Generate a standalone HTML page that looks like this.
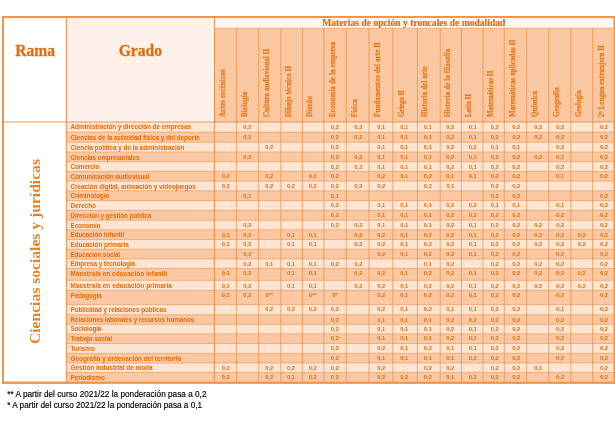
<!DOCTYPE html>
<html lang="es"><head><meta charset="utf-8"><title>Ponderaciones</title><style>
html,body{margin:0;padding:0;background:#fff;}
body{width:615px;height:434px;position:relative;overflow:hidden;font-family:"Liberation Sans",sans-serif;}
body>div{position:absolute;white-space:nowrap;}
.big{font-family:"Liberation Serif",serif;font-weight:bold;font-size:15.6px;line-height:20px;color:#E36C0A;text-align:center;transform-origin:50% 15.26px;transform:scaleY(1.11);-webkit-text-stroke:0.25px #E36C0A;}
.title{font-family:"Liberation Serif",serif;font-weight:bold;font-size:9.6px;line-height:10.5px;color:#E36C0A;text-align:center;transform-origin:50% 80%;transform:scaleY(1.05);-webkit-text-stroke:0.15px #E36C0A;}
.rot{font-family:"Liberation Serif",serif;font-weight:bold;transform-origin:0 0;transform:rotate(-90deg);}
.rama{font-size:15.6px;line-height:18px;color:#F0801F;}
.hd{font-size:7.0px;line-height:8px;color:#EA771A;transform:rotate(-90deg) scaleY(1.1);-webkit-text-stroke:0.2px #EA771A;}
.lab{height:10px;line-height:10px;font-weight:bold;font-size:6.4px;color:#E36C0A;}
.d{width:20px;height:10px;line-height:10px;font-weight:bold;font-size:5.8px;color:#E36C0A;text-align:center;}
.fn{-webkit-text-stroke:0.15px #000;font-size:8.2px;line-height:11px;color:#000;}
</style></head><body>
<svg width="615" height="434" viewBox="0 0 615 434" style="position:absolute;left:0;top:0;"><rect x="66.30" y="18.00" width="148.00" height="104.00" fill="#FFFAF6"/><rect x="66.30" y="18.00" width="145.40" height="104.00" fill="#FEF1E9"/><rect x="214.30" y="18.00" width="399.10" height="10.00" fill="#FEF6F0"/><rect x="214.30" y="28.00" width="399.10" height="94.00" fill="#F9C8A0"/><rect x="66.30" y="122.00" width="547.10" height="259.60" fill="#FDE5D3"/><rect x="66.30" y="132.20" width="547.10" height="10.00" fill="#FAC9A3"/><rect x="66.30" y="152.00" width="547.10" height="9.70" fill="#FAC9A3"/><rect x="66.30" y="171.40" width="547.10" height="9.70" fill="#FAC9A3"/><rect x="66.30" y="190.80" width="547.10" height="9.80" fill="#FAC9A3"/><rect x="66.30" y="210.40" width="547.10" height="9.80" fill="#FAC9A3"/><rect x="66.30" y="229.80" width="547.10" height="9.70" fill="#FAC9A3"/><rect x="66.30" y="249.30" width="547.10" height="9.70" fill="#FAC9A3"/><rect x="66.30" y="268.40" width="547.10" height="11.90" fill="#FAC9A3"/><rect x="66.30" y="290.40" width="547.10" height="14.20" fill="#FAC9A3"/><rect x="66.30" y="314.80" width="547.10" height="9.50" fill="#FAC9A3"/><rect x="66.30" y="333.90" width="547.10" height="9.60" fill="#FAC9A3"/><rect x="66.30" y="353.40" width="547.10" height="9.60" fill="#FAC9A3"/><rect x="66.30" y="372.40" width="547.10" height="9.20" fill="#FAC9A3"/><line x1="4.00" y1="122.00" x2="613.40" y2="122.00" stroke="#F08A3C" stroke-width="0.9"/><line x1="214.30" y1="28.20" x2="613.40" y2="28.20" stroke="#F3A46C" stroke-width="0.7"/><line x1="66.30" y1="132.20" x2="613.40" y2="132.20" stroke="#F08A3C" stroke-width="0.55"/><line x1="66.30" y1="142.20" x2="613.40" y2="142.20" stroke="#F08A3C" stroke-width="0.55"/><line x1="66.30" y1="152.00" x2="613.40" y2="152.00" stroke="#F08A3C" stroke-width="0.55"/><line x1="66.30" y1="161.70" x2="613.40" y2="161.70" stroke="#F08A3C" stroke-width="0.55"/><line x1="66.30" y1="171.40" x2="613.40" y2="171.40" stroke="#F08A3C" stroke-width="0.55"/><line x1="66.30" y1="181.10" x2="613.40" y2="181.10" stroke="#F08A3C" stroke-width="0.55"/><line x1="66.30" y1="190.80" x2="613.40" y2="190.80" stroke="#F08A3C" stroke-width="0.55"/><line x1="66.30" y1="200.60" x2="613.40" y2="200.60" stroke="#F08A3C" stroke-width="0.55"/><line x1="66.30" y1="210.40" x2="613.40" y2="210.40" stroke="#F08A3C" stroke-width="0.55"/><line x1="66.30" y1="220.20" x2="613.40" y2="220.20" stroke="#F08A3C" stroke-width="0.55"/><line x1="66.30" y1="229.80" x2="613.40" y2="229.80" stroke="#F08A3C" stroke-width="0.55"/><line x1="66.30" y1="239.50" x2="613.40" y2="239.50" stroke="#F08A3C" stroke-width="0.55"/><line x1="66.30" y1="249.30" x2="613.40" y2="249.30" stroke="#F08A3C" stroke-width="0.55"/><line x1="66.30" y1="259.00" x2="613.40" y2="259.00" stroke="#F08A3C" stroke-width="0.55"/><line x1="66.30" y1="268.40" x2="613.40" y2="268.40" stroke="#F08A3C" stroke-width="0.55"/><line x1="66.30" y1="280.30" x2="613.40" y2="280.30" stroke="#F08A3C" stroke-width="0.55"/><line x1="66.30" y1="290.40" x2="613.40" y2="290.40" stroke="#F08A3C" stroke-width="0.55"/><line x1="66.30" y1="304.60" x2="613.40" y2="304.60" stroke="#F08A3C" stroke-width="0.55"/><line x1="66.30" y1="314.80" x2="613.40" y2="314.80" stroke="#F08A3C" stroke-width="0.55"/><line x1="66.30" y1="324.30" x2="613.40" y2="324.30" stroke="#F08A3C" stroke-width="0.55"/><line x1="66.30" y1="333.90" x2="613.40" y2="333.90" stroke="#F08A3C" stroke-width="0.55"/><line x1="66.30" y1="343.50" x2="613.40" y2="343.50" stroke="#F08A3C" stroke-width="0.55"/><line x1="66.30" y1="353.40" x2="613.40" y2="353.40" stroke="#F08A3C" stroke-width="0.55"/><line x1="66.30" y1="363.00" x2="613.40" y2="363.00" stroke="#F08A3C" stroke-width="0.55"/><line x1="66.30" y1="372.40" x2="613.40" y2="372.40" stroke="#F08A3C" stroke-width="0.55"/><line x1="66.30" y1="18.00" x2="66.30" y2="381.60" stroke="#F08A3C" stroke-width="1.0"/><line x1="214.30" y1="18.00" x2="214.30" y2="381.60" stroke="#F08A3C" stroke-width="1.0"/><line x1="236.40" y1="28.00" x2="236.40" y2="381.60" stroke="#F08A3C" stroke-width="0.7"/><line x1="258.70" y1="28.00" x2="258.70" y2="381.60" stroke="#F08A3C" stroke-width="0.7"/><line x1="280.80" y1="28.00" x2="280.80" y2="381.60" stroke="#F08A3C" stroke-width="0.7"/><line x1="302.40" y1="28.00" x2="302.40" y2="381.60" stroke="#F08A3C" stroke-width="0.7"/><line x1="323.90" y1="28.00" x2="323.90" y2="381.60" stroke="#F08A3C" stroke-width="0.7"/><line x1="346.20" y1="28.00" x2="346.20" y2="381.60" stroke="#F08A3C" stroke-width="0.7"/><line x1="369.00" y1="28.00" x2="369.00" y2="381.60" stroke="#F08A3C" stroke-width="0.7"/><line x1="392.80" y1="28.00" x2="392.80" y2="381.60" stroke="#F08A3C" stroke-width="0.7"/><line x1="417.40" y1="28.00" x2="417.40" y2="381.60" stroke="#F08A3C" stroke-width="0.7"/><line x1="440.20" y1="28.00" x2="440.20" y2="381.60" stroke="#F08A3C" stroke-width="0.7"/><line x1="461.40" y1="28.00" x2="461.40" y2="381.60" stroke="#F08A3C" stroke-width="0.7"/><line x1="483.00" y1="28.00" x2="483.00" y2="381.60" stroke="#F08A3C" stroke-width="0.7"/><line x1="504.30" y1="28.00" x2="504.30" y2="381.60" stroke="#F08A3C" stroke-width="0.7"/><line x1="526.70" y1="28.00" x2="526.70" y2="381.60" stroke="#F08A3C" stroke-width="0.7"/><line x1="548.80" y1="28.00" x2="548.80" y2="381.60" stroke="#F08A3C" stroke-width="0.7"/><line x1="570.80" y1="28.00" x2="570.80" y2="381.60" stroke="#F08A3C" stroke-width="0.7"/><line x1="592.60" y1="28.00" x2="592.60" y2="381.60" stroke="#F08A3C" stroke-width="0.7"/><rect x="2.00" y="16.00" width="613.00" height="2.00" fill="#F39447"/><rect x="2.00" y="381.50" width="613.00" height="2.40" fill="#F39447"/><rect x="2.00" y="16.00" width="2.00" height="367.60" fill="#F39447"/><rect x="613.40" y="16.00" width="1.60" height="367.60" fill="#F39447"/></svg>
<div class="big" style="left:4px;top:41.0px;width:62.30px;">Rama</div>
<div class="big" style="left:66.30px;top:41.0px;width:148.00px;">Grado</div>
<div class="title" style="left:214.30px;top:18.1px;width:399.10px;">Materias de opción y troncales de modalidad</div>
<div class="rot rama" style="left:26px;top:343.8px;">Ciencias sociales y jurídicas</div>
<div class="rot hd" style="left:217.70px;top:116.7px;letter-spacing:0.166px;">Artes escénicas</div>
<div class="rot hd" style="left:239.70px;top:116.7px;letter-spacing:0.111px;">Biología</div>
<div class="rot hd" style="left:261.90px;top:116.7px;letter-spacing:0.052px;">Cultura audiovisual II</div>
<div class="rot hd" style="left:284.00px;top:116.7px;letter-spacing:0.024px;">Dibujo técnico II</div>
<div class="rot hd" style="left:305.40px;top:116.7px;letter-spacing:0.177px;">Diseño</div>
<div class="rot hd" style="left:327.70px;top:116.7px;letter-spacing:0.123px;">Economía de la empresa</div>
<div class="rot hd" style="left:349.90px;top:116.7px;letter-spacing:0.060px;">Física</div>
<div class="rot hd" style="left:373.20px;top:116.7px;letter-spacing:0.102px;">Fundamentos del arte II</div>
<div class="rot hd" style="left:397.00px;top:116.7px;letter-spacing:-0.136px;">Griego II</div>
<div class="rot hd" style="left:420.40px;top:116.7px;letter-spacing:0.109px;">Historia del arte</div>
<div class="rot hd" style="left:442.90px;top:116.7px;letter-spacing:0.104px;">Historia de la filosofía</div>
<div class="rot hd" style="left:464.00px;top:116.7px;letter-spacing:-0.094px;">Latín II</div>
<div class="rot hd" style="left:485.70px;top:116.7px;letter-spacing:0.052px;">Matemáticas II</div>
<div class="rot hd" style="left:508.00px;top:116.7px;letter-spacing:0.079px;">Matemáticas aplicadas II</div>
<div class="rot hd" style="left:530.40px;top:116.7px;letter-spacing:0.045px;">Química</div>
<div class="rot hd" style="left:552.30px;top:116.7px;letter-spacing:-0.031px;">Geografía</div>
<div class="rot hd" style="left:574.30px;top:116.7px;letter-spacing:0.006px;">Geología</div>
<div class="rot hd" style="left:596.70px;top:116.7px;letter-spacing:0.061px;">2ª Lengua extranjera II</div>
<div class="lab" style="left:70.5px;top:122px;letter-spacing:-0.064px;">Administración y dirección de empresas</div>
<div class="lab" style="left:70.5px;top:133px;letter-spacing:-0.055px;">Ciencias de la actividad física y del deporte</div>
<div class="lab" style="left:70.5px;top:143px;letter-spacing:-0.048px;">Ciencia política y de la administración</div>
<div class="lab" style="left:70.5px;top:153px;letter-spacing:-0.095px;">Ciencias empresariales</div>
<div class="lab" style="left:70.5px;top:162px;letter-spacing:-0.097px;">Comercio</div>
<div class="lab" style="left:70.5px;top:172px;letter-spacing:-0.081px;">Comunicación audiovisual</div>
<div class="lab" style="left:70.5px;top:182px;letter-spacing:-0.054px;">Creación digital, animación y videojuegos</div>
<div class="lab" style="left:70.5px;top:191px;letter-spacing:-0.051px;">Criminología</div>
<div class="lab" style="left:70.5px;top:201px;letter-spacing:-0.026px;">Derecho</div>
<div class="lab" style="left:70.5px;top:211px;letter-spacing:-0.085px;">Dirección y gestión pública</div>
<div class="lab" style="left:70.5px;top:221px;letter-spacing:-0.114px;">Economía</div>
<div class="lab" style="left:70.5px;top:230px;letter-spacing:-0.075px;">Educación infantil</div>
<div class="lab" style="left:70.5px;top:240px;letter-spacing:-0.064px;">Educación primaria</div>
<div class="lab" style="left:70.5px;top:250px;letter-spacing:-0.177px;">Educación social</div>
<div class="lab" style="left:70.5px;top:259px;letter-spacing:-0.076px;">Empresa y tecnología</div>
<div class="lab" style="left:70.5px;top:269px;letter-spacing:0.055px;">Maestro/a en educación infantil</div>
<div class="lab" style="left:70.5px;top:281px;letter-spacing:0.061px;">Maestro/a en educación primaria</div>
<div class="lab" style="left:70.5px;top:291px;letter-spacing:-0.127px;">Pedagogía</div>
<div class="lab" style="left:70.5px;top:305px;letter-spacing:-0.090px;">Publicidad y relaciones públicas</div>
<div class="lab" style="left:70.5px;top:315px;letter-spacing:-0.105px;">Relaciones laborales y recursos humanos</div>
<div class="lab" style="left:70.5px;top:324px;letter-spacing:-0.155px;">Sociología</div>
<div class="lab" style="left:70.5px;top:334px;letter-spacing:-0.089px;">Trabajo social</div>
<div class="lab" style="left:70.5px;top:344px;letter-spacing:-0.055px;">Turismo</div>
<div class="lab" style="left:70.5px;top:354px;letter-spacing:0.005px;">Geografía y ordenación del territorio</div>
<div class="lab" style="left:70.5px;top:363px;letter-spacing:-0.015px;">Gestión industrial de moda</div>
<div class="lab" style="left:70.5px;top:373px;letter-spacing:-0.052px;">Periodismo</div>
<div class="d" style="left:237.40px;top:122px;">0,2</div>
<div class="d" style="left:324.90px;top:122px;">0,2</div>
<div class="d" style="left:348.40px;top:122px;">0,2</div>
<div class="d" style="left:371.30px;top:122px;">0,1</div>
<div class="d" style="left:394.30px;top:122px;">0,1</div>
<div class="d" style="left:417.90px;top:122px;">0,1</div>
<div class="d" style="left:440.20px;top:122px;">0,2</div>
<div class="d" style="left:462.70px;top:122px;">0,1</div>
<div class="d" style="left:484.70px;top:122px;">0,2</div>
<div class="d" style="left:506.30px;top:122px;">0,2</div>
<div class="d" style="left:528.20px;top:122px;">0,2</div>
<div class="d" style="left:550.10px;top:122px;">0,2</div>
<div class="d" style="left:594.00px;top:122px;">0,2</div>
<div class="d" style="left:237.40px;top:132px;">0,2</div>
<div class="d" style="left:324.90px;top:132px;">0,2</div>
<div class="d" style="left:348.40px;top:132px;">0,2</div>
<div class="d" style="left:371.30px;top:132px;">0,1</div>
<div class="d" style="left:394.30px;top:132px;">0,1</div>
<div class="d" style="left:417.90px;top:132px;">0,1</div>
<div class="d" style="left:440.20px;top:132px;">0,2</div>
<div class="d" style="left:462.70px;top:132px;">0,1</div>
<div class="d" style="left:484.70px;top:132px;">0,2</div>
<div class="d" style="left:506.30px;top:132px;">0,2</div>
<div class="d" style="left:528.20px;top:132px;">0,2</div>
<div class="d" style="left:550.10px;top:132px;">0,2</div>
<div class="d" style="left:594.00px;top:132px;">0,2</div>
<div class="d" style="left:259.30px;top:142px;">0,2</div>
<div class="d" style="left:324.90px;top:142px;">0,2</div>
<div class="d" style="left:371.30px;top:142px;">0,1</div>
<div class="d" style="left:394.30px;top:142px;">0,1</div>
<div class="d" style="left:417.90px;top:142px;">0,1</div>
<div class="d" style="left:440.20px;top:142px;">0,2</div>
<div class="d" style="left:462.70px;top:142px;">0,2</div>
<div class="d" style="left:484.70px;top:142px;">0,1</div>
<div class="d" style="left:506.30px;top:142px;">0,1</div>
<div class="d" style="left:550.10px;top:142px;">0,2</div>
<div class="d" style="left:594.00px;top:142px;">0,2</div>
<div class="d" style="left:237.40px;top:152px;">0,2</div>
<div class="d" style="left:324.90px;top:152px;">0,2</div>
<div class="d" style="left:348.40px;top:152px;">0,2</div>
<div class="d" style="left:371.30px;top:152px;">0,1</div>
<div class="d" style="left:394.30px;top:152px;">0,1</div>
<div class="d" style="left:417.90px;top:152px;">0,1</div>
<div class="d" style="left:440.20px;top:152px;">0,2</div>
<div class="d" style="left:462.70px;top:152px;">0,1</div>
<div class="d" style="left:484.70px;top:152px;">0,2</div>
<div class="d" style="left:506.30px;top:152px;">0,2</div>
<div class="d" style="left:528.20px;top:152px;">0,2</div>
<div class="d" style="left:550.10px;top:152px;">0,2</div>
<div class="d" style="left:594.00px;top:152px;">0,2</div>
<div class="d" style="left:324.90px;top:162px;">0,2</div>
<div class="d" style="left:348.40px;top:162px;">0,2</div>
<div class="d" style="left:371.30px;top:162px;">0,1</div>
<div class="d" style="left:394.30px;top:162px;">0,1</div>
<div class="d" style="left:417.90px;top:162px;">0,1</div>
<div class="d" style="left:440.20px;top:162px;">0,2</div>
<div class="d" style="left:462.70px;top:162px;">0,1</div>
<div class="d" style="left:484.70px;top:162px;">0,2</div>
<div class="d" style="left:506.30px;top:162px;">0,2</div>
<div class="d" style="left:550.10px;top:162px;">0,2</div>
<div class="d" style="left:594.00px;top:162px;">0,2</div>
<div class="d" style="left:215.70px;top:171px;">0,2</div>
<div class="d" style="left:259.30px;top:171px;">0,2</div>
<div class="d" style="left:302.70px;top:171px;">0,2</div>
<div class="d" style="left:324.90px;top:171px;">0,2</div>
<div class="d" style="left:371.30px;top:171px;">0,2</div>
<div class="d" style="left:394.30px;top:171px;">0,1</div>
<div class="d" style="left:417.90px;top:171px;">0,2</div>
<div class="d" style="left:440.20px;top:171px;">0,1</div>
<div class="d" style="left:462.70px;top:171px;">0,1</div>
<div class="d" style="left:484.70px;top:171px;">0,2</div>
<div class="d" style="left:506.30px;top:171px;">0,2</div>
<div class="d" style="left:550.10px;top:171px;">0,1</div>
<div class="d" style="left:594.00px;top:171px;">0,2</div>
<div class="d" style="left:215.70px;top:181px;">0,2</div>
<div class="d" style="left:259.30px;top:181px;">0,2</div>
<div class="d" style="left:281.00px;top:181px;">0,2</div>
<div class="d" style="left:302.70px;top:181px;">0,2</div>
<div class="d" style="left:324.90px;top:181px;">0,2</div>
<div class="d" style="left:348.40px;top:181px;">0,2</div>
<div class="d" style="left:371.30px;top:181px;">0,2</div>
<div class="d" style="left:417.90px;top:181px;">0,2</div>
<div class="d" style="left:440.20px;top:181px;">0,1</div>
<div class="d" style="left:484.70px;top:181px;">0,2</div>
<div class="d" style="left:506.30px;top:181px;">0,2</div>
<div class="d" style="left:237.40px;top:191px;">0,1</div>
<div class="d" style="left:324.90px;top:191px;">0,1</div>
<div class="d" style="left:484.70px;top:191px;">0,2</div>
<div class="d" style="left:506.30px;top:191px;">0,2</div>
<div class="d" style="left:594.00px;top:191px;">0,2</div>
<div class="d" style="left:324.90px;top:200px;">0,2</div>
<div class="d" style="left:371.30px;top:200px;">0,1</div>
<div class="d" style="left:394.30px;top:200px;">0,1</div>
<div class="d" style="left:417.90px;top:200px;">0,1</div>
<div class="d" style="left:440.20px;top:200px;">0,2</div>
<div class="d" style="left:462.70px;top:200px;">0,2</div>
<div class="d" style="left:484.70px;top:200px;">0,1</div>
<div class="d" style="left:506.30px;top:200px;">0,1</div>
<div class="d" style="left:550.10px;top:200px;">0,1</div>
<div class="d" style="left:594.00px;top:200px;">0,2</div>
<div class="d" style="left:324.90px;top:210px;">0,2</div>
<div class="d" style="left:371.30px;top:210px;">0,1</div>
<div class="d" style="left:394.30px;top:210px;">0,1</div>
<div class="d" style="left:417.90px;top:210px;">0,1</div>
<div class="d" style="left:440.20px;top:210px;">0,2</div>
<div class="d" style="left:462.70px;top:210px;">0,2</div>
<div class="d" style="left:484.70px;top:210px;">0,2</div>
<div class="d" style="left:506.30px;top:210px;">0,2</div>
<div class="d" style="left:550.10px;top:210px;">0,2</div>
<div class="d" style="left:594.00px;top:210px;">0,2</div>
<div class="d" style="left:237.40px;top:220px;">0,2</div>
<div class="d" style="left:324.90px;top:220px;">0,2</div>
<div class="d" style="left:348.40px;top:220px;">0,2</div>
<div class="d" style="left:371.30px;top:220px;">0,1</div>
<div class="d" style="left:394.30px;top:220px;">0,1</div>
<div class="d" style="left:417.90px;top:220px;">0,1</div>
<div class="d" style="left:440.20px;top:220px;">0,2</div>
<div class="d" style="left:462.70px;top:220px;">0,1</div>
<div class="d" style="left:484.70px;top:220px;">0,2</div>
<div class="d" style="left:506.30px;top:220px;">0,2</div>
<div class="d" style="left:528.20px;top:220px;">0,2</div>
<div class="d" style="left:550.10px;top:220px;">0,2</div>
<div class="d" style="left:594.00px;top:220px;">0,2</div>
<div class="d" style="left:215.70px;top:230px;">0,1</div>
<div class="d" style="left:237.40px;top:230px;">0,2</div>
<div class="d" style="left:281.00px;top:230px;">0,1</div>
<div class="d" style="left:302.70px;top:230px;">0,1</div>
<div class="d" style="left:348.40px;top:230px;">0,2</div>
<div class="d" style="left:371.30px;top:230px;">0,2</div>
<div class="d" style="left:394.30px;top:230px;">0,1</div>
<div class="d" style="left:417.90px;top:230px;">0,2</div>
<div class="d" style="left:440.20px;top:230px;">0,2</div>
<div class="d" style="left:462.70px;top:230px;">0,1</div>
<div class="d" style="left:484.70px;top:230px;">0,2</div>
<div class="d" style="left:506.30px;top:230px;">0,2</div>
<div class="d" style="left:528.20px;top:230px;">0,2</div>
<div class="d" style="left:550.10px;top:230px;">0,2</div>
<div class="d" style="left:571.70px;top:230px;">0,2</div>
<div class="d" style="left:594.00px;top:230px;">0,2</div>
<div class="d" style="left:215.70px;top:239px;">0,1</div>
<div class="d" style="left:237.40px;top:239px;">0,2</div>
<div class="d" style="left:281.00px;top:239px;">0,1</div>
<div class="d" style="left:302.70px;top:239px;">0,1</div>
<div class="d" style="left:348.40px;top:239px;">0,2</div>
<div class="d" style="left:371.30px;top:239px;">0,2</div>
<div class="d" style="left:394.30px;top:239px;">0,1</div>
<div class="d" style="left:417.90px;top:239px;">0,2</div>
<div class="d" style="left:440.20px;top:239px;">0,2</div>
<div class="d" style="left:462.70px;top:239px;">0,1</div>
<div class="d" style="left:484.70px;top:239px;">0,2</div>
<div class="d" style="left:506.30px;top:239px;">0,2</div>
<div class="d" style="left:528.20px;top:239px;">0,2</div>
<div class="d" style="left:550.10px;top:239px;">0,2</div>
<div class="d" style="left:571.70px;top:239px;">0,2</div>
<div class="d" style="left:594.00px;top:239px;">0,2</div>
<div class="d" style="left:237.40px;top:249px;">0,2</div>
<div class="d" style="left:371.30px;top:249px;">0,2</div>
<div class="d" style="left:394.30px;top:249px;">0,1</div>
<div class="d" style="left:417.90px;top:249px;">0,2</div>
<div class="d" style="left:440.20px;top:249px;">0,2</div>
<div class="d" style="left:462.70px;top:249px;">0,1</div>
<div class="d" style="left:484.70px;top:249px;">0,2</div>
<div class="d" style="left:506.30px;top:249px;">0,2</div>
<div class="d" style="left:550.10px;top:249px;">0,2</div>
<div class="d" style="left:594.00px;top:249px;">0,2</div>
<div class="d" style="left:237.40px;top:259px;">0,2</div>
<div class="d" style="left:259.30px;top:259px;">0,1</div>
<div class="d" style="left:281.00px;top:259px;">0,1</div>
<div class="d" style="left:302.70px;top:259px;">0,1</div>
<div class="d" style="left:324.90px;top:259px;">0,2</div>
<div class="d" style="left:348.40px;top:259px;">0,2</div>
<div class="d" style="left:417.90px;top:259px;">0,1</div>
<div class="d" style="left:440.20px;top:259px;">0,2</div>
<div class="d" style="left:484.70px;top:259px;">0,2</div>
<div class="d" style="left:506.30px;top:259px;">0,2</div>
<div class="d" style="left:528.20px;top:259px;">0,2</div>
<div class="d" style="left:550.10px;top:259px;">0,2</div>
<div class="d" style="left:594.00px;top:259px;">0,2</div>
<div class="d" style="left:215.70px;top:268px;">0,1</div>
<div class="d" style="left:237.40px;top:268px;">0,2</div>
<div class="d" style="left:281.00px;top:268px;">0,1</div>
<div class="d" style="left:302.70px;top:268px;">0,1</div>
<div class="d" style="left:348.40px;top:268px;">0,2</div>
<div class="d" style="left:371.30px;top:268px;">0,2</div>
<div class="d" style="left:394.30px;top:268px;">0,1</div>
<div class="d" style="left:417.90px;top:268px;">0,2</div>
<div class="d" style="left:440.20px;top:268px;">0,2</div>
<div class="d" style="left:462.70px;top:268px;">0,1</div>
<div class="d" style="left:484.70px;top:268px;">0,2</div>
<div class="d" style="left:506.30px;top:268px;">0,2</div>
<div class="d" style="left:528.20px;top:268px;">0,2</div>
<div class="d" style="left:550.10px;top:268px;">0,2</div>
<div class="d" style="left:571.70px;top:268px;">0,2</div>
<div class="d" style="left:594.00px;top:268px;">0,2</div>
<div class="d" style="left:215.70px;top:281px;">0,1</div>
<div class="d" style="left:237.40px;top:281px;">0,2</div>
<div class="d" style="left:281.00px;top:281px;">0,1</div>
<div class="d" style="left:302.70px;top:281px;">0,1</div>
<div class="d" style="left:348.40px;top:281px;">0,2</div>
<div class="d" style="left:371.30px;top:281px;">0,2</div>
<div class="d" style="left:394.30px;top:281px;">0,1</div>
<div class="d" style="left:417.90px;top:281px;">0,2</div>
<div class="d" style="left:440.20px;top:281px;">0,2</div>
<div class="d" style="left:462.70px;top:281px;">0,1</div>
<div class="d" style="left:484.70px;top:281px;">0,2</div>
<div class="d" style="left:506.30px;top:281px;">0,2</div>
<div class="d" style="left:528.20px;top:281px;">0,2</div>
<div class="d" style="left:550.10px;top:281px;">0,2</div>
<div class="d" style="left:571.70px;top:281px;">0,2</div>
<div class="d" style="left:594.00px;top:281px;">0,2</div>
<div class="d" style="left:215.70px;top:290px;">0,1</div>
<div class="d" style="left:237.40px;top:290px;">0,2</div>
<div class="d" style="left:259.30px;top:290px;">0**</div>
<div class="d" style="left:302.70px;top:290px;">0**</div>
<div class="d" style="left:324.90px;top:290px;">0*</div>
<div class="d" style="left:371.30px;top:290px;">0,2</div>
<div class="d" style="left:394.30px;top:290px;">0,1</div>
<div class="d" style="left:417.90px;top:290px;">0,2</div>
<div class="d" style="left:440.20px;top:290px;">0,2</div>
<div class="d" style="left:462.70px;top:290px;">0,1</div>
<div class="d" style="left:484.70px;top:290px;">0,2</div>
<div class="d" style="left:506.30px;top:290px;">0,2</div>
<div class="d" style="left:550.10px;top:290px;">0,2</div>
<div class="d" style="left:594.00px;top:290px;">0,2</div>
<div class="d" style="left:259.30px;top:304px;">0,2</div>
<div class="d" style="left:281.00px;top:304px;">0,2</div>
<div class="d" style="left:302.70px;top:304px;">0,2</div>
<div class="d" style="left:324.90px;top:304px;">0,2</div>
<div class="d" style="left:371.30px;top:304px;">0,2</div>
<div class="d" style="left:394.30px;top:304px;">0,1</div>
<div class="d" style="left:417.90px;top:304px;">0,2</div>
<div class="d" style="left:440.20px;top:304px;">0,1</div>
<div class="d" style="left:462.70px;top:304px;">0,1</div>
<div class="d" style="left:484.70px;top:304px;">0,2</div>
<div class="d" style="left:506.30px;top:304px;">0,2</div>
<div class="d" style="left:550.10px;top:304px;">0,1</div>
<div class="d" style="left:594.00px;top:304px;">0,2</div>
<div class="d" style="left:324.90px;top:315px;">0,2</div>
<div class="d" style="left:371.30px;top:315px;">0,1</div>
<div class="d" style="left:394.30px;top:315px;">0,1</div>
<div class="d" style="left:417.90px;top:315px;">0,1</div>
<div class="d" style="left:440.20px;top:315px;">0,2</div>
<div class="d" style="left:462.70px;top:315px;">0,2</div>
<div class="d" style="left:484.70px;top:315px;">0,2</div>
<div class="d" style="left:506.30px;top:315px;">0,2</div>
<div class="d" style="left:550.10px;top:315px;">0,2</div>
<div class="d" style="left:594.00px;top:315px;">0,2</div>
<div class="d" style="left:324.90px;top:324px;">0,2</div>
<div class="d" style="left:371.30px;top:324px;">0,1</div>
<div class="d" style="left:394.30px;top:324px;">0,1</div>
<div class="d" style="left:417.90px;top:324px;">0,1</div>
<div class="d" style="left:440.20px;top:324px;">0,2</div>
<div class="d" style="left:462.70px;top:324px;">0,1</div>
<div class="d" style="left:484.70px;top:324px;">0,2</div>
<div class="d" style="left:506.30px;top:324px;">0,2</div>
<div class="d" style="left:550.10px;top:324px;">0,2</div>
<div class="d" style="left:594.00px;top:324px;">0,2</div>
<div class="d" style="left:324.90px;top:333px;">0,2</div>
<div class="d" style="left:371.30px;top:333px;">0,1</div>
<div class="d" style="left:394.30px;top:333px;">0,1</div>
<div class="d" style="left:417.90px;top:333px;">0,1</div>
<div class="d" style="left:440.20px;top:333px;">0,2</div>
<div class="d" style="left:462.70px;top:333px;">0,1</div>
<div class="d" style="left:484.70px;top:333px;">0,2</div>
<div class="d" style="left:506.30px;top:333px;">0,2</div>
<div class="d" style="left:550.10px;top:333px;">0,2</div>
<div class="d" style="left:594.00px;top:333px;">0,2</div>
<div class="d" style="left:324.90px;top:343px;">0,2</div>
<div class="d" style="left:371.30px;top:343px;">0,2</div>
<div class="d" style="left:394.30px;top:343px;">0,1</div>
<div class="d" style="left:417.90px;top:343px;">0,2</div>
<div class="d" style="left:440.20px;top:343px;">0,1</div>
<div class="d" style="left:462.70px;top:343px;">0,1</div>
<div class="d" style="left:484.70px;top:343px;">0,2</div>
<div class="d" style="left:506.30px;top:343px;">0,2</div>
<div class="d" style="left:550.10px;top:343px;">0,2</div>
<div class="d" style="left:594.00px;top:343px;">0,2</div>
<div class="d" style="left:324.90px;top:353px;">0,2</div>
<div class="d" style="left:371.30px;top:353px;">0,1</div>
<div class="d" style="left:394.30px;top:353px;">0,1</div>
<div class="d" style="left:417.90px;top:353px;">0,1</div>
<div class="d" style="left:440.20px;top:353px;">0,1</div>
<div class="d" style="left:462.70px;top:353px;">0,2</div>
<div class="d" style="left:484.70px;top:353px;">0,2</div>
<div class="d" style="left:506.30px;top:353px;">0,2</div>
<div class="d" style="left:550.10px;top:353px;">0,2</div>
<div class="d" style="left:594.00px;top:353px;">0,2</div>
<div class="d" style="left:215.70px;top:363px;">0,2</div>
<div class="d" style="left:259.30px;top:363px;">0,2</div>
<div class="d" style="left:281.00px;top:363px;">0,2</div>
<div class="d" style="left:302.70px;top:363px;">0,2</div>
<div class="d" style="left:324.90px;top:363px;">0,2</div>
<div class="d" style="left:371.30px;top:363px;">0,2</div>
<div class="d" style="left:417.90px;top:363px;">0,2</div>
<div class="d" style="left:440.20px;top:363px;">0,2</div>
<div class="d" style="left:484.70px;top:363px;">0,2</div>
<div class="d" style="left:506.30px;top:363px;">0,2</div>
<div class="d" style="left:528.20px;top:363px;">0,1</div>
<div class="d" style="left:594.00px;top:363px;">0,2</div>
<div class="d" style="left:215.70px;top:372px;">0,2</div>
<div class="d" style="left:259.30px;top:372px;">0,2</div>
<div class="d" style="left:281.00px;top:372px;">0,1</div>
<div class="d" style="left:302.70px;top:372px;">0,2</div>
<div class="d" style="left:324.90px;top:372px;">0,2</div>
<div class="d" style="left:371.30px;top:372px;">0,2</div>
<div class="d" style="left:394.30px;top:372px;">0,2</div>
<div class="d" style="left:417.90px;top:372px;">0,2</div>
<div class="d" style="left:440.20px;top:372px;">0,1</div>
<div class="d" style="left:462.70px;top:372px;">0,2</div>
<div class="d" style="left:484.70px;top:372px;">0,2</div>
<div class="d" style="left:506.30px;top:372px;">0,2</div>
<div class="d" style="left:550.10px;top:372px;">0,2</div>
<div class="d" style="left:594.00px;top:372px;">0,2</div>
<div class="fn" style="left:7.3px;top:389.2px;letter-spacing:0.021px;">** A partir del curso 2021/22 la ponderación pasa a 0,2</div>
<div class="fn" style="left:7.3px;top:400.1px;letter-spacing:-0.002px;">* A partir del curso 2021/22 la ponderación pasa a 0,1</div>
</body></html>
